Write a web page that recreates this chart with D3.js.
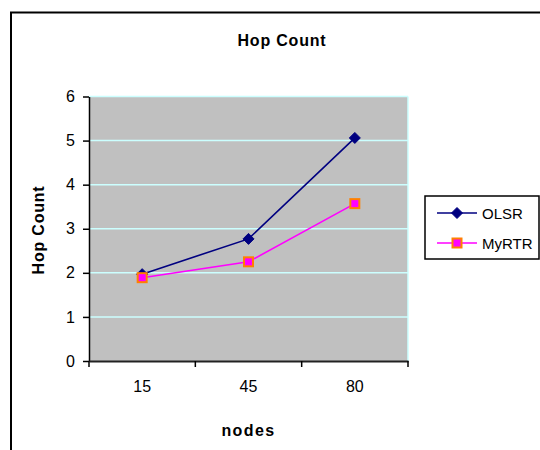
<!DOCTYPE html>
<html>
<head>
<meta charset="utf-8">
<script src="https://cdn.jsdelivr.net/npm/d3@7"></script>
<style>
  body { margin: 0; background: #fff; }
  text { font-family: Arial, "Liberation Sans", sans-serif; fill: #000; }
</style>
</head>
<body>
<div id="chart"></div>
<script>
const nodes = ['15', '45', '80']
const olsr = [1.97, 2.77, 5.06]
const myrtr = [1.89, 2.25, 3.57]
const yTicks = [0, 1, 2, 3, 4, 5, 6]

const width = 540
const height = 450
const plot = { left: 89, right: 408, top: 96.5, bottom: 361 }

const svg = d3.select('#chart')
  .append('svg')
  .attr('width', width)
  .attr('height', height)

// chart frame, runs off the right and bottom edge
svg.append('rect')
  .attr('x', 11)
  .attr('y', 12.5)
  .attr('width', 560)
  .attr('height', 480)
  .attr('fill', '#fff')
  .attr('stroke', '#000')
  .attr('stroke-width', 2)

const x = d3.scaleBand()
  .domain(nodes)
  .range([plot.left, plot.right])
  .padding(0)

const y = d3.scaleLinear()
  .domain([0, 6])
  .range([plot.bottom, plot.top])

const cx = d => x(d) + x.bandwidth() / 2

// plot area
svg.append('rect')
  .attr('x', plot.left)
  .attr('y', plot.top)
  .attr('width', plot.right - plot.left)
  .attr('height', plot.bottom - plot.top)
  .attr('fill', '#c0c0c0')

// grid lines
svg.append('g')
  .selectAll('line')
  .data(yTicks.filter(t => t > 0))
  .join('line')
  .attr('x1', plot.left)
  .attr('x2', plot.right)
  .attr('y1', d => y(d))
  .attr('y2', d => y(d))
  .attr('stroke', '#ccffff')
  .attr('stroke-width', 1.5)

svg.append('line')
  .attr('x1', plot.right)
  .attr('x2', plot.right)
  .attr('y1', plot.top)
  .attr('y2', plot.bottom)
  .attr('stroke', '#ccffff')
  .attr('stroke-width', 1.5)

// y axis
const yAxisG = svg.append('g')
  .attr('transform', `translate(${plot.left},0)`)
  .call(d3.axisLeft(y)
    .tickValues(yTicks)
    .tickFormat(d3.format('d'))
    .tickSize(6)
    .tickPadding(8)
    .tickSizeOuter(0))
yAxisG.select('.domain').attr('stroke', '#000').attr('stroke-width', 1.5)
yAxisG.selectAll('.tick line').attr('stroke', '#000').attr('stroke-width', 1.5)
yAxisG.selectAll('.tick text')
  .attr('font-size', 16)
  .attr('font-family', 'Arial, "Liberation Sans", sans-serif')
  .attr('fill', '#000')

// x axis
const xAxisG = svg.append('g')
  .attr('transform', `translate(0,${plot.bottom})`)
  .call(d3.axisBottom(x).tickSize(0).tickSizeOuter(0))
xAxisG.select('.domain').attr('stroke', '#222').attr('stroke-width', 2)
xAxisG.selectAll('.tick text')
  .attr('y', 31)
  .attr('dy', 0)
  .attr('font-size', 16)
  .attr('font-family', 'Arial, "Liberation Sans", sans-serif')
  .attr('fill', '#000')

const edges = nodes.map(n => x(n)).concat([x.range()[1]])
xAxisG.selectAll('.edge')
  .data(edges)
  .join('line')
  .attr('class', 'edge')
  .attr('x1', d => d)
  .attr('x2', d => d)
  .attr('y1', 0)
  .attr('y2', 6)
  .attr('stroke', '#000')
  .attr('stroke-width', 1.5)

// series
const series = [
  { name: 'OLSR', values: olsr, color: '#000080', marker: 'diamond' },
  { name: 'MyRTR', values: myrtr, color: '#ff00ff', marker: 'square' }
]

const line = d3.line()
  .x((d, i) => cx(nodes[i]))
  .y(d => y(d))

function drawMarker (sel, s) {
  if (s.marker === 'diamond') {
    sel.append('path')
      .attr('d', 'M0,-5.5L5.5,0L0,5.5L-5.5,0Z')
      .attr('fill', s.color)
      .attr('stroke', s.color)
      .attr('stroke-width', 1)
  } else {
    sel.append('rect')
      .attr('x', -4.5)
      .attr('y', -4.5)
      .attr('width', 9)
      .attr('height', 9)
      .attr('fill', '#ff00ff')
      .attr('stroke', '#ff8000')
      .attr('stroke-width', 2)
  }
}

series.forEach(s => {
  svg.append('path')
    .datum(s.values)
    .attr('d', line)
    .attr('fill', 'none')
    .attr('stroke', s.color)
    .attr('stroke-width', 1.6)
})

series.forEach(s => {
  s.values.forEach((v, i) => {
    const m = svg.append('g')
      .attr('transform', `translate(${cx(nodes[i])},${y(v)})`)
    drawMarker(m, s)
  })
})

// titles
svg.append('text')
  .attr('x', 282)
  .attr('y', 45.5)
  .attr('text-anchor', 'middle')
  .attr('font-size', 16)
  .attr('font-weight', 'bold')
  .attr('letter-spacing', 0.8)
  .text('Hop Count')

svg.append('text')
  .attr('transform', 'translate(44,230) rotate(-90)')
  .attr('text-anchor', 'middle')
  .attr('font-size', 16)
  .attr('font-weight', 'bold')
  .attr('letter-spacing', 0.8)
  .text('Hop Count')

svg.append('text')
  .attr('x', (plot.left + plot.right) / 2)
  .attr('y', 436)
  .attr('text-anchor', 'middle')
  .attr('font-size', 16)
  .attr('font-weight', 'bold')
  .attr('letter-spacing', 1.4)
  .text('nodes')

// legend
const legend = svg.append('g')
  .attr('transform', 'translate(425,196)')

legend.append('rect')
  .attr('width', 114)
  .attr('height', 63)
  .attr('fill', '#fff')
  .attr('stroke', '#000')
  .attr('stroke-width', 1.5)

series.forEach((s, i) => {
  const row = legend.append('g')
    .attr('transform', `translate(0,${17 + i * 30})`)
  row.append('line')
    .attr('x1', 12)
    .attr('x2', 52)
    .attr('stroke', s.color)
    .attr('stroke-width', 1.6)
  drawMarker(row.append('g').attr('transform', 'translate(32,0)'), s)
  row.append('text')
    .attr('x', 57)
    .attr('y', 5.5)
    .attr('font-size', 15)
    .text(s.name)
})
</script>
</body>
</html>
